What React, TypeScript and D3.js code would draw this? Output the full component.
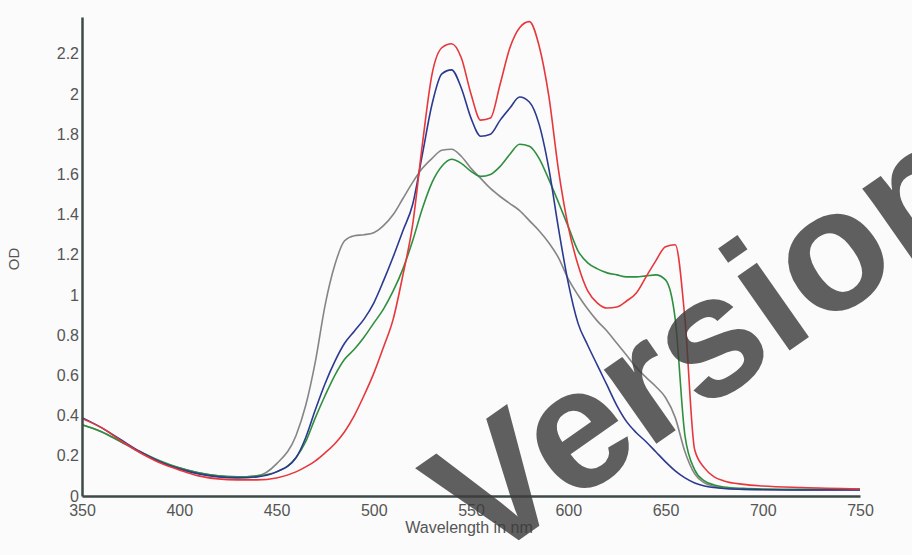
import React, { useEffect, useRef } from 'react'
import * as d3 from 'd3'

// wavelength samples (nm)
const wavelengths = [
  350, 360, 370, 380, 390, 400, 410, 420, 430, 440, 450, 460, 465, 470, 475, 480,
  485, 490, 495, 500, 505, 510, 515, 520, 525, 530, 535, 540, 545, 550, 555, 560,
  565, 570, 575, 580, 585, 590, 595, 600, 605, 610, 615, 620, 625, 630, 635, 640,
  645, 650, 655, 660, 665, 670, 675, 680, 690, 700, 720, 750
]

const greyOD = [
  0.355, 0.32, 0.27, 0.215, 0.17, 0.14, 0.115, 0.1, 0.095, 0.1, 0.16, 0.3, 0.45, 0.67, 0.95, 1.15,
  1.27, 1.295, 1.3, 1.31, 1.345, 1.4, 1.48, 1.56, 1.63, 1.68, 1.72, 1.725, 1.69, 1.63, 1.58, 1.53,
  1.49, 1.455, 1.42, 1.37, 1.32, 1.26, 1.185, 1.08, 1.0, 0.93, 0.87, 0.82, 0.76, 0.7, 0.64, 0.59,
  0.545, 0.49, 0.39, 0.22, 0.11, 0.065, 0.048, 0.04, 0.035, 0.032, 0.03, 0.03
]

const blueOD = [
  0.39, 0.34, 0.28, 0.22, 0.17, 0.135, 0.11, 0.095, 0.09, 0.095, 0.12, 0.19, 0.29, 0.43, 0.56, 0.67,
  0.76, 0.82, 0.88, 0.96, 1.07, 1.19, 1.32, 1.45, 1.7, 1.95, 2.1, 2.12, 2.03, 1.88, 1.79, 1.8,
  1.87, 1.93, 1.985, 1.96, 1.85, 1.63, 1.33, 1.06, 0.86, 0.75, 0.65, 0.55, 0.45, 0.37, 0.315, 0.27,
  0.22, 0.17, 0.125, 0.09, 0.065, 0.05, 0.042, 0.037, 0.033, 0.031, 0.03, 0.03
]

const greenOD = [
  0.355, 0.32, 0.27, 0.22, 0.175, 0.14, 0.115, 0.1, 0.095, 0.1, 0.12, 0.19, 0.27, 0.39, 0.5, 0.6,
  0.68, 0.73, 0.79, 0.86, 0.93, 1.02, 1.13, 1.27, 1.43, 1.56, 1.64, 1.675, 1.655, 1.615, 1.59, 1.6,
  1.64, 1.7, 1.75, 1.74, 1.68, 1.575, 1.46, 1.34, 1.22, 1.16, 1.13, 1.11, 1.1, 1.09, 1.09, 1.095,
  1.1, 1.075, 0.88, 0.3, 0.13, 0.075, 0.055, 0.045, 0.038, 0.035, 0.033, 0.035
]

const redOD = [
  0.385, 0.34, 0.275, 0.215, 0.165, 0.13, 0.1, 0.085, 0.08, 0.08, 0.09, 0.12, 0.145, 0.175, 0.215, 0.26,
  0.32, 0.4, 0.5, 0.61, 0.74, 0.88, 1.1, 1.35, 1.75, 2.1, 2.23, 2.25, 2.18, 2.0, 1.87, 1.88,
  2.05, 2.23, 2.33, 2.36, 2.24, 1.99, 1.62, 1.34, 1.15, 1.02, 0.96, 0.935, 0.94, 0.97, 1.01, 1.09,
  1.17, 1.24, 1.25, 0.88, 0.23, 0.14, 0.095, 0.075, 0.058, 0.05, 0.042, 0.035
]

const xTicks = [350, 400, 450, 500, 550, 600, 650, 700, 750]
const yTicks = [0, 0.2, 0.4, 0.6, 0.8, 1, 1.2, 1.4, 1.6, 1.8, 2, 2.2]

const series = [
  { name: 'grey', color: '#858585', values: greyOD },
  { name: 'green', color: '#2f8f3f', values: greenOD },
  { name: 'blue', color: '#2b3990', values: blueOD },
  { name: 'red', color: '#e6373c', values: redOD }
]

const width = 912
const height = 555
const font = '"Liberation Sans", Arial, sans-serif'

export default function App() {
  const anchor = useRef<SVGSVGElement>(null)

  useEffect(() => {
    const svg = d3.select(anchor.current)
    svg.selectAll('*').remove()

    const x = d3.scaleLinear().domain([350, 750]).range([82, 860])
    const y = d3.scaleLinear().domain([0, 2.383]).range([496, 17])

    svg
      .append('rect')
      .attr('width', width)
      .attr('height', height)
      .attr('fill', '#fbfbfb')

    const line = d3
      .line<number>()
      .x((d, i) => x(wavelengths[i]))
      .y(d => y(d))
      .curve(d3.curveMonotoneX)

    svg
      .append('g')
      .selectAll('path')
      .data(series)
      .enter()
      .append('path')
      .attr('d', d => line(d.values))
      .attr('fill', 'none')
      .attr('stroke', d => d.color)
      .attr('stroke-width', 1.6)

    // axes
    const yAxis = svg
      .append('g')
      .attr('transform', 'translate(82,0)')
      .call(
        d3
          .axisLeft(y)
          .tickValues(yTicks)
          .tickSize(0)
          .tickPadding(3)
          .tickFormat(d => String(d))
      )
    const xAxis = svg
      .append('g')
      .attr('transform', 'translate(0,496)')
      .call(
        d3
          .axisBottom(x)
          .tickValues(xTicks)
          .tickSize(0)
          .tickPadding(9)
          .tickFormat(d => String(d))
      )

    for (const ax of [yAxis, xAxis]) {
      ax.select('.domain').attr('stroke', '#3d4b48').attr('stroke-width', 2.5)
      ax.selectAll('text')
        .attr('fill', '#555')
        .style('font-family', font)
        .style('font-size', '16px')
    }

    svg
      .append('text')
      .attr('transform', 'translate(19,259) rotate(-90)')
      .attr('text-anchor', 'middle')
      .attr('fill', '#555')
      .style('font-family', font)
      .style('font-size', '15px')
      .text('OD')

    svg
      .append('text')
      .attr('x', 469)
      .attr('y', 533)
      .attr('text-anchor', 'middle')
      .attr('fill', '#555')
      .style('font-family', font)
      .style('font-size', '16px')
      .text('Wavelength in nm')

    // watermark
    svg
      .append('text')
      .attr('transform', 'translate(482,566) rotate(-35)')
      .attr('fill', '#3c3c3c')
      .attr('fill-opacity', 0.82)
      .style('font-family', font)
      .style('font-weight', 'bold')
      .style('font-size', '172px')
      .text('Version')
  }, [])

  return (
    <svg
      ref={anchor}
      width={width}
      height={height}
      style={{ position: 'absolute', left: 0, top: 0, display: 'block' }}
    />
  )
}
